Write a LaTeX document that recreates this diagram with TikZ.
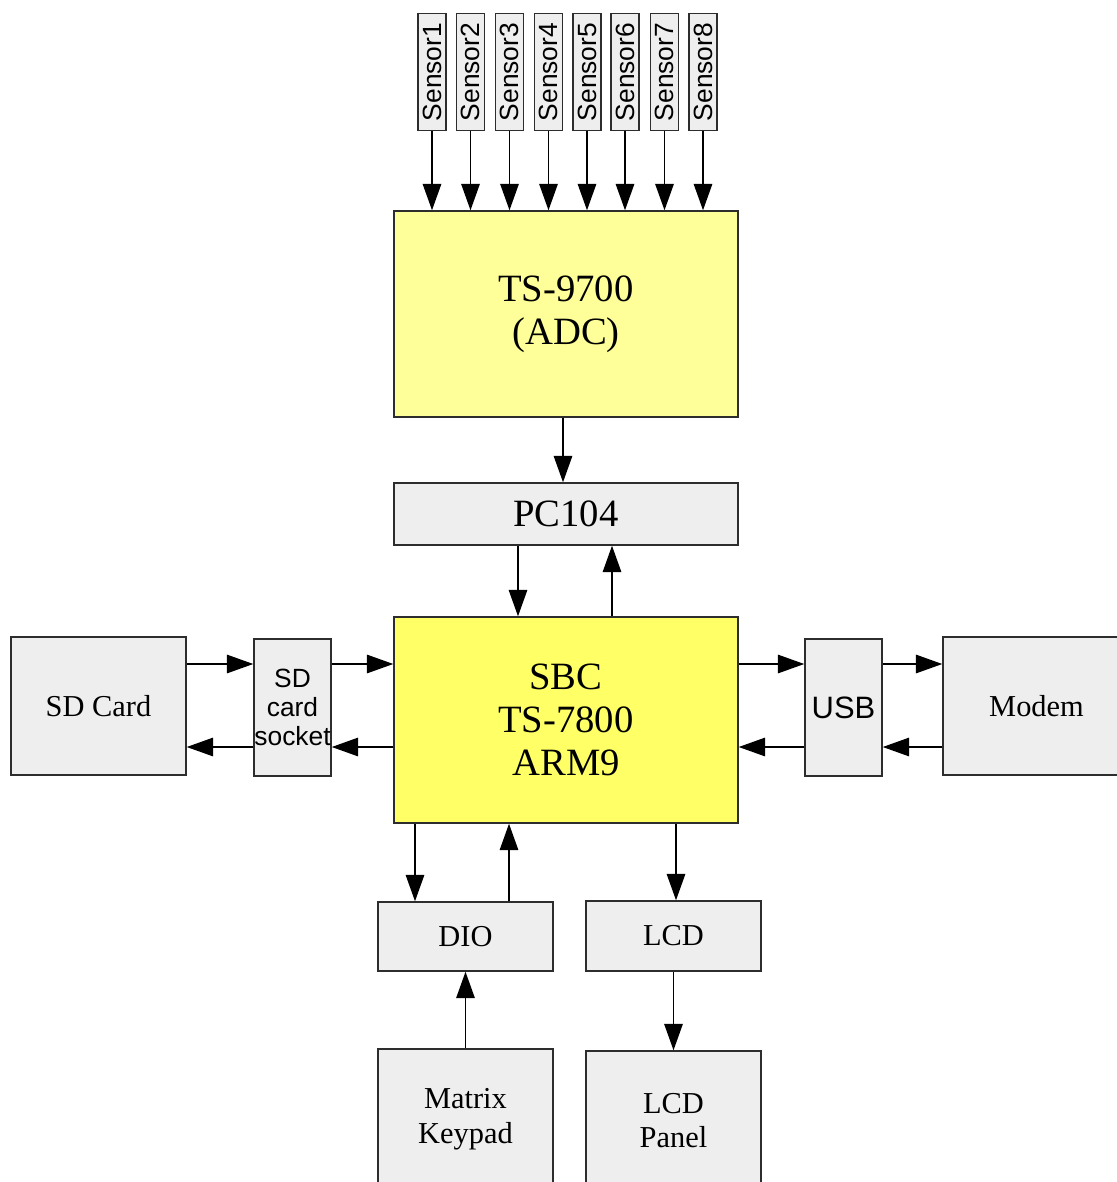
\documentclass[tikz,border=0pt]{standalone}
\usepackage{fontspec}
\setmainfont{Liberation Serif}
\setsansfont{Liberation Sans}
\usetikzlibrary{arrows.meta,positioning}
\definecolor{boxgray}{RGB}{238,238,238}
\definecolor{adcyellow}{RGB}{255,255,153}
\definecolor{sbcyellow}{RGB}{255,255,102}
\definecolor{edge}{RGB}{45,45,45}

\begin{document}
\begin{tikzpicture}[x=0.02cm, y=-0.02cm,
  blk/.style={draw=edge, line width=0.85pt, fill=boxgray, inner sep=0pt, align=center,
    font=\fontsize{17.3}{19.8}\selectfont},
  bigblk/.style={blk, minimum width=6.88cm, font=\fontsize{22}{24.4}\selectfont},
  sensor/.style={blk, rotate=90, minimum width=2.34cm, minimum height=0.56cm,
    font=\sffamily\fontsize{15}{15}\selectfont},
  arr/.style={-{Triangle[length=15pt,width=10.5pt]}, line width=0.85pt}]
\useasboundingbox (0,0) rectangle (1116,1182);
% ---- sensors and ADC
\foreach \i/\x in {1/432,2/470.5,3/509.5,4/548.5,5/587,6/625,7/664.5,8/703}
  \node[sensor] (s\i) at (\x,72) {Sensor\i};
\node[bigblk, fill=adcyellow, minimum height=4.12cm] (adc) at (566,314) {TS-9700\\(ADC)};
\node[bigblk, minimum height=1.24cm] (pc) at (566,514) {PC104};
\node[bigblk, fill=sbcyellow, minimum height=4.12cm] (sbc) at (566,720) {SBC\\TS-7800\\ARM9};
% ---- left and right side
\node[blk, minimum width=3.5cm, minimum height=2.76cm] (sdcard) at (98.5,706) {SD Card};
\node[blk, minimum width=1.54cm, minimum height=2.74cm,
  font=\sffamily\fontsize{15}{16.7}\selectfont] (sock) at (292.5,707.5) {SD\\card\\socket};
\node[blk, minimum width=1.54cm, minimum height=2.74cm,
  font=\sffamily\fontsize{17.6}{20}\selectfont] (usb) at (843.5,707.5) {USB};
\node[blk, minimum width=3.74cm, minimum height=2.76cm] (modem) at (1036.5,706) {Modem};
% ---- bottom row
\node[blk, minimum width=3.5cm, minimum height=1.38cm] (dio) at (465.5,936.5) {DIO};
\node[blk, minimum width=3.5cm, minimum height=1.40cm] (lcd) at (673.5,936) {LCD};
\node[blk, minimum width=3.5cm, minimum height=2.82cm] (keypad) at (465.5,1119.5) {Matrix\\Keypad};
\node[blk, minimum width=3.5cm, minimum height=2.78cm] (panel) at (673.5,1120.5) {LCD\\Panel};
% ---- helper rows / columns
\coordinate (rowA) at (0,664);
\coordinate (rowB) at (0,747);
\coordinate (colT) at (563,0);
\coordinate (colP1) at (518,0);
\coordinate (colP2) at (612,0);
\coordinate (colD1) at (415,0);
\coordinate (colD2) at (509,0);
\coordinate (colL) at (676,0);
% ---- connectors
\foreach \i in {1,...,8}
  \draw[arr] (s\i.west) -- (s\i.west |- adc.north);
\draw[arr] (adc.south -| colT) -- (pc.north -| colT);
\draw[arr] (pc.south -| colP1) -- (sbc.north -| colP1);
\draw[arr] (sbc.north -| colP2) -- (pc.south -| colP2);
\draw[arr] (sdcard.east |- rowA) -- (sock.west |- rowA);
\draw[arr] (sock.west |- rowB) -- (sdcard.east |- rowB);
\draw[arr] (sock.east |- rowA) -- (sbc.west |- rowA);
\draw[arr] (sbc.west |- rowB) -- (sock.east |- rowB);
\draw[arr] (sbc.east |- rowA) -- (usb.west |- rowA);
\draw[arr] (usb.west |- rowB) -- (sbc.east |- rowB);
\draw[arr] (usb.east |- rowA) -- (modem.west |- rowA);
\draw[arr] (modem.west |- rowB) -- (usb.east |- rowB);
\draw[arr] (sbc.south -| colD1) -- (dio.north -| colD1);
\draw[arr] (dio.north -| colD2) -- (sbc.south -| colD2);
\draw[arr] (sbc.south -| colL) -- (lcd.north -| colL);
\draw[arr] (keypad.north) -- (dio.south);
\draw[arr] (lcd.south) -- (panel.north);
\end{tikzpicture}
\end{document}
